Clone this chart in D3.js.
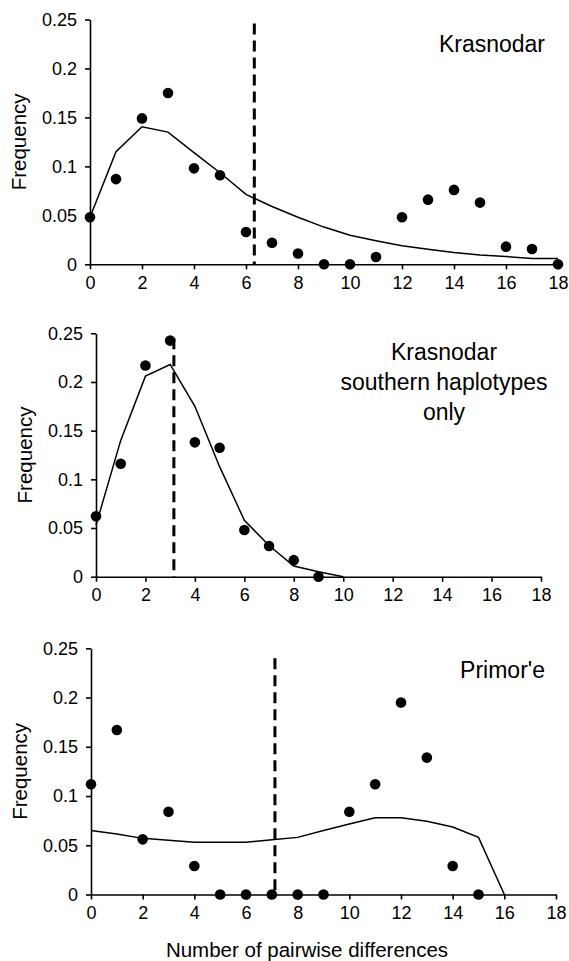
<!DOCTYPE html>
<html>
<head>
<meta charset="utf-8">
<script src="https://cdn.jsdelivr.net/npm/d3@7"></script>
<style>
  html, body { margin: 0; padding: 0; background: #fff; }
  svg { display: block; }
  text { font-family: "Liberation Sans", Arial, Helvetica, sans-serif; fill: #000; }
</style>
</head>
<body>
<div id="chart"></div>
<script>
// pairwise difference distributions (mismatch)
const krasDiffs = [0, 1, 2, 3, 4, 5, 6, 7, 8, 9, 10, 11, 12, 13, 14, 15, 16, 17, 18];
const krasObserved = [0.048, 0.087, 0.149, 0.175, 0.098, 0.091, 0.033, 0.022, 0.011, 0, 0, 0.0075, 0.048, 0.066, 0.076, 0.063, 0.018, 0.0157, 0];
const krasExpected = [0.048, 0.115, 0.1405, 0.135, 0.114, 0.0935, 0.0714, 0.059, 0.048, 0.038, 0.0296, 0.024, 0.019, 0.0153, 0.012, 0.0095, 0.008, 0.0058, 0.0058];
const krasMean = 6.32;

const southObsDiffs = [0, 1, 2, 3, 4, 5, 6, 7, 8, 9];
const southObserved = [0.062, 0.116, 0.217, 0.2425, 0.138, 0.1325, 0.048, 0.0315, 0.017, 0];
const southExpDiffs = [0, 1, 2, 3, 4, 5, 6, 7, 8, 9, 10];
const southExpected = [0.053, 0.14, 0.206, 0.218, 0.175, 0.113, 0.058, 0.032, 0.011, 0.005, 0];
const southMean = 3.15;

const primObsDiffs = [0, 1, 2, 3, 4, 5, 6, 7, 8, 9, 10, 11, 12, 13, 14, 15];
const primObserved = [0.112, 0.167, 0.056, 0.084, 0.029, 0, 0, 0, 0, 0, 0.084, 0.112, 0.195, 0.139, 0.029, 0];
const primExpDiffs = [0, 1, 2, 3, 4, 5, 6, 7, 8, 9, 10, 11, 12, 13, 14, 15, 16];
const primExpected = [0.065, 0.0615, 0.057, 0.055, 0.053, 0.053, 0.053, 0.0557, 0.058, 0.065, 0.0716, 0.078, 0.078, 0.0743, 0.0686, 0.058, 0];
const primMean = 7.12;

const xTicks = [0, 2, 4, 6, 8, 10, 12, 14, 16, 18];
const yTicks = [0, 0.05, 0.1, 0.15, 0.2, 0.25];
const yTickLabels = ['0', '0.05', '0.1', '0.15', '0.2', '0.25'];

const panels = [
  { title: ['Krasnodar'], obsX: krasDiffs, obsY: krasObserved, expX: krasDiffs, expY: krasExpected,
    mean: krasMean, meanTop: 0.246,
    box: { left: 90, right: 558, top: 19.5, bottom: 264.3 }, titleX: 545, titleY: 52, anchor: 'end' },
  { title: ['Krasnodar', 'southern haplotypes', 'only'], obsX: southObsDiffs, obsY: southObserved,
    expX: southExpDiffs, expY: southExpected, mean: southMean, meanTop: 0.245,
    box: { left: 96, right: 541, top: 333.3, bottom: 576.7 }, titleX: 444, titleY: 360, anchor: 'middle' },
  { title: ["Primor'e"], obsX: primObsDiffs, obsY: primObserved, expX: primExpDiffs, expY: primExpected,
    mean: primMean, meanTop: 0.24,
    box: { left: 91, right: 556, top: 648.3, bottom: 894.5 }, titleX: 545, titleY: 678, anchor: 'end' }
];

const width = 569, height = 961;

const svg = d3.select('#chart')
  .append('svg')
  .attr('width', width)
  .attr('height', height);

panels.forEach(p => drawPanel(p));

// x axis title, only under the last panel
svg.append('text')
  .attr('x', 307)
  .attr('y', 957)
  .attr('text-anchor', 'middle')
  .style('font-size', '20.5px')
  .text('Number of pairwise differences');

function drawPanel(p) {
  const b = p.box;
  const x = d3.scaleLinear().domain([0, 18]).range([b.left, b.right]);
  const y = d3.scaleLinear().domain([0, 0.25]).range([b.bottom, b.top]);

  const g = svg.append('g');

  // axes
  const xAxis = d3.axisBottom(x).tickValues(xTicks).tickSize(5).tickSizeOuter(0).tickPadding(3);
  const yAxis = d3.axisLeft(y).tickValues(yTicks).tickSize(5).tickSizeOuter(0).tickPadding(8)
    .tickFormat((d, i) => yTickLabels[i]);

  const gx = g.append('g')
    .attr('transform', `translate(0,${b.bottom})`)
    .call(xAxis);
  const gy = g.append('g')
    .attr('transform', `translate(${b.left},0)`)
    .call(yAxis);

  [gx, gy].forEach(a => {
    a.select('.domain').attr('stroke', '#000').attr('stroke-width', 1.6);
    a.selectAll('.tick line').attr('stroke', '#000').attr('stroke-width', 1.6);
    a.selectAll('.tick text')
      .style('font-size', '18px')
      .style('font-family', '"Liberation Sans", Arial, Helvetica, sans-serif')
      .attr('fill', '#000');
  });
  gx.selectAll('.tick text').attr('dy', '0.92em');

  // y axis title
  g.append('text')
    .attr('transform', `translate(${b.left - 64},${(b.top + b.bottom) / 2}) rotate(-90)`)
    .attr('text-anchor', 'middle')
    .style('font-size', '20.5px')
    .text('Frequency');

  // expected (model) curve
  const line = d3.line()
    .x((d, i) => x(p.expX[i]))
    .y(d => y(d));
  g.append('path')
    .datum(p.expY)
    .attr('d', line)
    .attr('fill', 'none')
    .attr('stroke', '#000')
    .attr('stroke-width', 1.5);

  // mean pairwise differences
  g.append('line')
    .attr('x1', x(p.mean)).attr('x2', x(p.mean))
    .attr('y1', y(p.meanTop)).attr('y2', y(0))
    .attr('stroke', '#000')
    .attr('stroke-width', 3)
    .attr('stroke-dasharray', '11,6');

  // observed frequencies
  g.selectAll('circle.obs')
    .data(p.obsY)
    .enter()
    .append('circle')
    .attr('class', 'obs')
    .attr('cx', (d, i) => x(p.obsX[i]))
    .attr('cy', d => y(d))
    .attr('r', 5.3)
    .attr('fill', '#000');

  // panel label
  const t = g.append('text')
    .attr('x', p.titleX)
    .attr('y', p.titleY)
    .attr('text-anchor', p.anchor)
    .style('font-size', '23px');
  p.title.forEach((s, i) => {
    t.append('tspan')
      .attr('x', p.titleX)
      .attr('dy', i === 0 ? 0 : 30)
      .text(s);
  });
}
</script>
</body>
</html>
